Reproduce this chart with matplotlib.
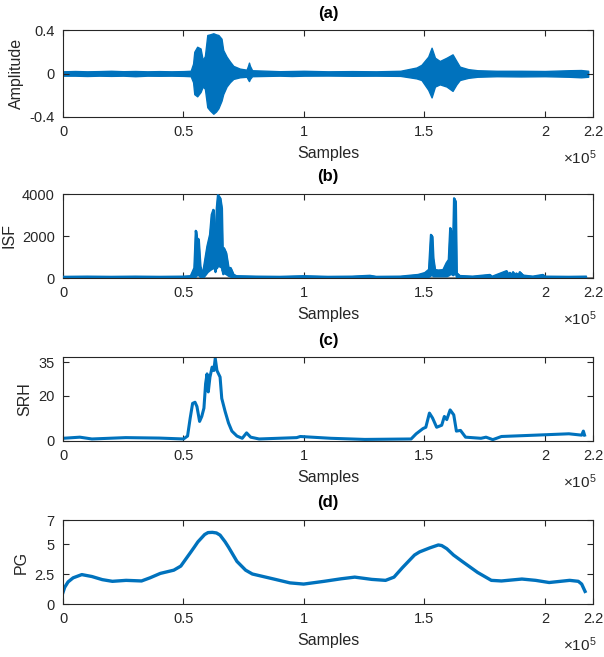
import matplotlib
matplotlib.use("Agg")
import matplotlib.pyplot as plt
import numpy as np

plt.rcParams['font.family'] = ['Liberation Sans', 'DejaVu Sans']
plt.rcParams['axes.unicode_minus'] = False
plt.rcParams['mathtext.fontset'] = 'custom'
plt.rcParams['mathtext.rm'] = 'Liberation Sans'
plt.rcParams['mathtext.it'] = 'Liberation Sans'

BLUE = '#0072BD'
AX = '#262626'

# ---------------- data (x in units of 1e5 samples) ----------------
# (a) waveform envelope (upper / lower)
a_x = [0.00, 0.05, 0.10, 0.15, 0.20, 0.25, 0.30, 0.35, 0.40, 0.45, 0.50, 0.53,
       0.54, 0.545, 0.557, 0.571, 0.58, 0.589, 0.599, 0.61, 0.624, 0.635, 0.645,
       0.658, 0.665, 0.679, 0.693, 0.707, 0.734, 0.762, 0.768, 0.772, 0.776, 0.785,
       0.85, 0.90, 0.95, 1.00, 1.10, 1.20, 1.30, 1.40, 1.467, 1.488, 1.516, 1.53,
       1.544, 1.564, 1.592, 1.617, 1.633, 1.647, 1.682, 1.72, 1.80, 1.90, 2.00,
       2.10, 2.15, 2.18]
a_up = [0.020, 0.023, 0.020, 0.022, 0.025, 0.021, 0.023, 0.020, 0.022, 0.020, 0.022, 0.025,
        0.09, 0.20, 0.246, 0.23, 0.124, 0.16, 0.354, 0.36, 0.37, 0.36, 0.354,
        0.32, 0.216, 0.155, 0.11, 0.07, 0.045, 0.035, 0.07, 0.10, 0.07, 0.030,
        0.025, 0.021, 0.023, 0.025, 0.020, 0.022, 0.020, 0.025, 0.055, 0.08, 0.155, 0.237,
        0.145, 0.115, 0.145, 0.176, 0.115, 0.063, 0.040, 0.030, 0.025, 0.025, 0.023,
        0.030, 0.032, 0.025]
a_lo = [-0.020, -0.020, -0.023, -0.020, -0.022, -0.020, -0.025, -0.020, -0.021, -0.020, -0.022, -0.025,
        -0.08, -0.19, -0.21, -0.17, -0.12, -0.14, -0.31, -0.34, -0.37, -0.35, -0.32,
        -0.25, -0.19, -0.12, -0.08, -0.05, -0.035, -0.030, -0.055, -0.07, -0.05, -0.025,
        -0.022, -0.020, -0.023, -0.020, -0.019, -0.021, -0.020, -0.022, -0.045, -0.06, -0.15, -0.22,
        -0.12, -0.10, -0.12, -0.16, -0.10, -0.06, -0.040, -0.030, -0.025, -0.027, -0.025,
        -0.030, -0.035, -0.030]

# (b) ISF envelope (upper / lower)
b_x = [0.00, 0.10, 0.20, 0.30, 0.40, 0.50, 0.53, 0.545, 0.551, 0.555, 0.562, 0.569,
       0.58, 0.589, 0.599, 0.61, 0.617, 0.624, 0.628, 0.631, 0.635, 0.638, 0.643,
       0.652, 0.658, 0.663, 0.667, 0.676, 0.686, 0.695, 0.707, 0.72, 0.80, 0.90,
       1.00, 1.10, 1.20, 1.274, 1.30, 1.40, 1.474, 1.502, 1.519, 1.527, 1.532,
       1.536, 1.543, 1.557, 1.578, 1.592, 1.601, 1.607, 1.612, 1.618, 1.623, 1.629,
       1.633, 1.647, 1.70, 1.772, 1.78, 1.841, 1.848, 1.855, 1.862, 1.868, 1.875,
       1.882, 1.89, 1.896, 1.91, 1.95, 1.992, 2.00, 2.10, 2.17]
b_up = [60, 70, 60, 70, 60, 70, 90, 480, 2250, 1900, 1850, 560,
        160, 800, 1510, 2060, 3015, 3250, 1500, 480, 2500, 3330, 3950,
        3800, 3330, 330, 1430, 1200, 480, 480, 160, 90, 70, 60,
        90, 60, 70, 110, 60, 70, 150, 240, 400, 2060, 1980,
        950, 390, 360, 380, 715, 870, 2380, 2220, 950, 3800, 3650,
        240, 100, 70, 150, 60, 330, 150, 250, 120, 280, 130,
        220, 120, 280, 120, 70, 150, 70, 60, 70]
b_lo = [0, 0, 0, 0, 0, 0, 0, 20, 100, 150, 150, 60,
        20, 150, 300, 400, 450, 500, 450, 300, 500, 500, 600,
        550, 500, 200, 250, 200, 120, 80, 30, 0, 0, 0,
        0, 0, 0, 0, 0, 0, 10, 50, 80, 150, 150,
        100, 100, 100, 100, 100, 150, 200, 200, 150, 200, 200,
        50, 0, 0, 0, 0, 0, 0, 0, 0, 0, 0,
        0, 0, 0, 0, 0, 0, 0, 0, 0]

# (c) SRH
c_x = [0.00, 0.07, 0.12, 0.26, 0.40, 0.50, 0.517, 0.528, 0.538, 0.548, 0.556, 0.567,
       0.576, 0.585, 0.592, 0.598, 0.603, 0.61, 0.619, 0.626, 0.632, 0.639, 0.652,
       0.659, 0.673, 0.687, 0.701, 0.722, 0.744, 0.762, 0.779, 0.814, 0.97, 0.985,
       1.112, 1.253, 1.445, 1.466, 1.494, 1.506, 1.521, 1.534, 1.551, 1.572, 1.583,
       1.593, 1.607, 1.622, 1.633, 1.65, 1.671, 1.735, 1.756, 1.784, 1.82, 1.962,
       2.10, 2.153, 2.16, 2.165]
c_y = [1.2, 1.7, 0.9, 1.5, 1.3, 0.9, 2.2, 10.2, 16.7, 17.2, 15.3, 8.7,
       10.9, 14.6, 25.5, 29.8, 21.8, 28.4, 32.8, 31.3, 36.7, 31.3, 28.4,
       18.9, 13.1, 8.0, 4.4, 2.2, 1.2, 3.6, 1.7, 0.9, 1.5, 2.0,
       1.2, 0.7, 0.9, 3.2, 5.5, 6.1, 12.4, 10.2, 6.1, 7.0, 10.9,
       9.5, 13.8, 11.6, 4.4, 4.7, 1.7, 1.2, 1.7, 0.6, 2.0, 2.6,
       3.2, 2.6, 4.4, 2.6]

# (d) PG
d_x = [0.00, 0.007, 0.021, 0.042, 0.078, 0.12, 0.163, 0.205, 0.262, 0.326, 0.361, 0.404,
       0.46, 0.489, 0.531, 0.545, 0.56, 0.588, 0.602, 0.62, 0.637, 0.652, 0.673, 0.687,
       0.722, 0.758, 0.786, 0.871, 0.942, 0.999, 1.084, 1.154, 1.211, 1.282, 1.339,
       1.374, 1.409, 1.459, 1.48, 1.523, 1.558, 1.572, 1.593, 1.621, 1.657, 1.721,
       1.778, 1.82, 1.905, 1.962, 2.018, 2.103, 2.139, 2.153, 2.167]
d_y = [0.97, 1.39, 1.84, 2.18, 2.45, 2.29, 2.03, 1.89, 1.97, 1.92, 2.18, 2.55,
       2.82, 3.16, 4.34, 4.74, 5.18, 5.79, 5.95, 5.97, 5.92, 5.74, 5.18, 4.74,
       3.55, 2.82, 2.50, 2.10, 1.76, 1.66, 1.89, 2.10, 2.24, 2.05, 1.97,
       2.24, 3.03, 4.08, 4.34, 4.68, 4.92, 4.87, 4.61, 4.08, 3.55, 2.63,
       1.97, 1.92, 2.08, 1.97, 1.79, 1.97, 1.89, 1.66, 1.05]

x_ticks = [0, 0.5, 1, 1.5, 2, 2.2]
x_tick_labels = ['0', '0.5', '1', '1.5', '2', '2.2']
SCALE = 1e5

# ---------------- figure ----------------
W, H = 604, 657
fig = plt.figure(figsize=(W / 100, H / 100), dpi=100)

def add_panel(top_px, bot_px):
    left, right = 63, 593
    return fig.add_axes([left / W, 1 - bot_px / H, (right - left) / W, (bot_px - top_px) / H])

def style(ax, title, ylabel, yticks, yticklabels, ylim):
    ax.set_xlim(0, 2.2 * SCALE)
    ax.set_ylim(*ylim)
    ax.set_xticks([t * SCALE for t in x_ticks])
    ax.set_xticklabels(x_tick_labels)
    ax.set_yticks(yticks)
    ax.set_yticklabels(yticklabels)
    ax.tick_params(direction='in', top=True, right=True, length=4, width=0.8,
                   colors=AX, labelsize=10.5, pad=6)
    for s in ax.spines.values():
        s.set_color(AX)
        s.set_linewidth(0.8)
    ax.set_title(title, fontsize=12, fontweight='bold', color='black', pad=9)
    ax.set_xlabel('Samples', fontsize=11.5, color=AX, labelpad=5)
    ax.set_ylabel(ylabel, fontsize=11.5, color=AX, labelpad=4)
    ax.annotate(r'$\times10^5$', xy=(1, 0), xycoords='axes fraction',
                xytext=(3, -50), textcoords='offset pixels', ha='right', va='bottom',
                fontsize=11, color=AX)

# (a)
ax = add_panel(30, 117)
ax.fill_between(np.array(a_x) * SCALE, a_lo, a_up, color=BLUE, lw=1.0, edgecolor=BLUE)
style(ax, '(a)', 'Amplitude', [-0.4, 0, 0.4], ['-0.4', '0', '0.4'], (-0.4, 0.4))

# (b)
ax = add_panel(194, 278)
ax.axhline(0, color='#808080', lw=2, zorder=1)
ax.fill_between(np.array(b_x) * SCALE, b_lo, b_up, color=BLUE, lw=1.5, edgecolor=BLUE, zorder=2)
ax.plot(np.array(b_x) * SCALE, b_up, color=BLUE, lw=1.5, zorder=3)
style(ax, '(b)', 'ISF', [0, 2000, 4000], ['0', '2000', '4000'], (0, 4000))

# (c)
ax = add_panel(357, 441)
ax.plot(np.array(c_x) * SCALE, c_y, color=BLUE, lw=2.2)
style(ax, '(c)', 'SRH', [0, 20, 35], ['0', '20', '35'], (0, 37.3))

# (d)
ax = add_panel(520, 604)
ax.plot(np.array(d_x) * SCALE, d_y, color=BLUE, lw=2.4)
style(ax, '(d)', 'PG', [0, 2.5, 5, 7], ['0', '2.5', '5', '7'], (0, 7))

fig.savefig('out.png', dpi=100)
